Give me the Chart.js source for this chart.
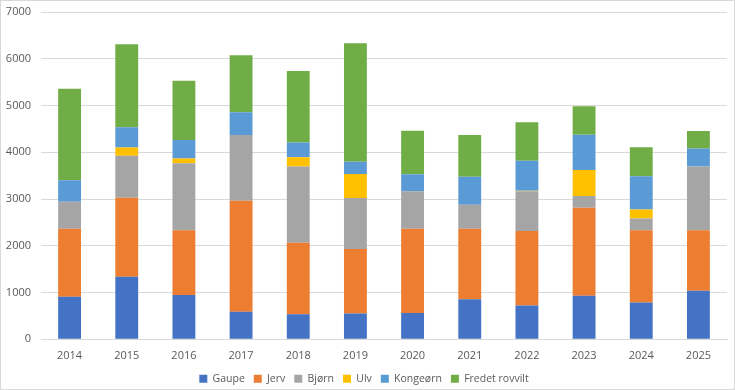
<!DOCTYPE html>
<html lang="no">
<head>
  <meta charset="UTF-8">
  <title>Rovvilt</title>
  <style>
    html, body { margin: 0; padding: 0; background: #fff; }
    #boks {
      width: 733px;
      height: 388px;
      border: 1px solid #d9d9d9;
      position: relative;
    }
  </style>
</head>
<body>
  <div id="boks">
    <canvas id="meuCanvas"></canvas>
  </div>

  <script src="https://cdn.jsdelivr.net/npm/chart.js"></script>
  <script>
    // år på x-aksen
    const aar = ['2014', '2015', '2016', '2017', '2018', '2019', '2020', '2021', '2022', '2023', '2024', '2025'];

    // verdier lest av figuren
    const gaupe    = [910, 1340, 947, 588, 538, 552, 560, 854, 725, 933, 789, 1040];
    const jerv     = [1457, 1686, 1384, 2375, 1528, 1378, 1807, 1513, 1592, 1879, 1542, 1291];
    const bjorn    = [574, 897, 1435, 1406, 1628, 1090, 797, 510, 847, 251, 252, 1363];
    const ulv      = [0, 179, 101, 0, 201, 517, 0, 0, 15, 560, 193, 0];
    const kongeorn = [459, 431, 394, 488, 316, 258, 365, 602, 637, 753, 710, 388];
    const fredet   = [1958, 1779, 1270, 1219, 1528, 2539, 933, 890, 825, 610, 624, 373];

    const yTicks = [0, 1000, 2000, 3000, 4000, 5000, 6000, 7000];

    const serier = [
      { label: 'Gaupe', data: gaupe, backgroundColor: '#4472C4' },
      { label: 'Jerv', data: jerv, backgroundColor: '#ED7D31' },
      { label: 'Bjørn', data: bjorn, backgroundColor: '#A5A5A5' },
      { label: 'Ulv', data: ulv, backgroundColor: '#FFC000' },
      { label: 'Kongeørn', data: kongeorn, backgroundColor: '#5B9BD5' },
      { label: 'Fredet rovvilt', data: fredet, backgroundColor: '#70AD47' }
    ];

    Chart.defaults.font.family = '"Open Sans", "Liberation Sans", sans-serif';
    Chart.defaults.font.size = 11;
    Chart.defaults.color = '#595959';

    const ctx = document.getElementById('meuCanvas').getContext('2d');
    new Chart(ctx, {
      type: 'bar',
      data: {
        labels: aar,
        datasets: serier.map(s => ({
          label: s.label,
          data: s.data,
          backgroundColor: s.backgroundColor,
          borderWidth: 0,
          categoryPercentage: 1,
          barPercentage: 0.4
        }))
      },
      options: {
        responsive: true,
        maintainAspectRatio: false,
        animation: false,
        layout: { padding: { left: 0, right: 7, top: 11, bottom: -5 } },
        plugins: {
          tooltip: { enabled: false },
          legend: {
            position: 'bottom',
            labels: {
              boxWidth: 8,
              boxHeight: 8,
              padding: 9,
              font: { size: 10.5 }
            }
          }
        },
        scales: {
          x: {
            stacked: true,
            grid: { display: false },
            border: { color: '#d9d9d9' },
            ticks: { padding: 2 }
          },
          y: {
            stacked: true,
            min: 0,
            max: 7000,
            afterBuildTicks: axis => { axis.ticks = yTicks.map(v => ({ value: v })); },
            afterFit: axis => { axis.paddingTop = 0; axis.paddingBottom = 0; axis.width = 40; },
            grid: { color: '#d9d9d9', drawTicks: false },
            border: { display: false },
            ticks: { padding: 10, callback: v => String(v) }
          }
        }
      }
    });
  </script>
</body>
</html>
